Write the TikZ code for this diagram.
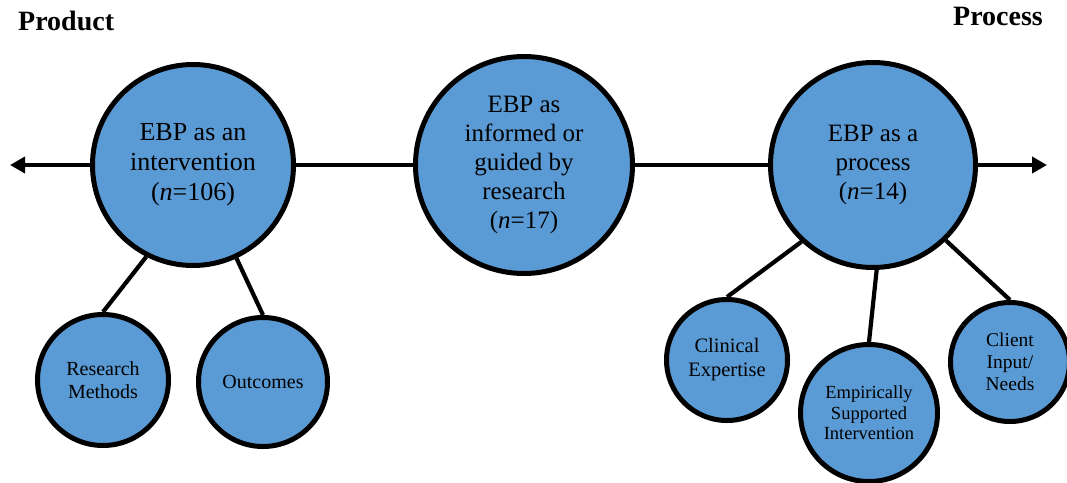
\documentclass[tikz,border=0pt]{standalone}
\usepackage{fontspec}
\setmainfont{Liberation Serif}
\usepackage{tikz}
\usetikzlibrary{arrows.meta}
\definecolor{BubbleBlue}{HTML}{5B9BD5}
\definecolor{Ink}{HTML}{000000}
\tikzset{
  bubble/.style={
    circle,
    draw=Ink,
    fill=BubbleBlue,
    line width=5pt,
    align=center,
    inner sep=0pt,
    text=Ink
  },
  mainbubble/.style={bubble, font=\fontsize{25}{29}\selectfont},
  subbubble/.style={bubble, font=\fontsize{20}{23}\selectfont},
  heading/.style={font=\fontsize{28}{32}\selectfont\bfseries, inner sep=0pt},
  axisline/.style={draw=Ink, line width=4.2pt},
  axisarrow/.style={axisline, -{Triangle[length=15pt,width=16pt]}},
  linkline/.style={draw=Ink, line width=4.2pt}
}
\begin{document}
\begin{tikzpicture}[x=1pt,y=-1pt]
  \useasboundingbox (0,0) rectangle (1067,482);
  % end labels
  \node[heading, anchor=base west] (product) at (18,30) {Product};
  \node[heading, anchor=base east] (process) at (1043,25) {Process};

  % three views of EBP along the axis
  \node[mainbubble, minimum size=201pt, font=\fontsize{26}{30}\selectfont] (interv) at (193,165)
    {EBP as an\\intervention\\(\textit{n}=106)};
  \node[mainbubble, minimum size=217pt] (informed) at (524,165)
    {EBP as\\informed or\\guided by\\research\\(\textit{n}=17)};
  \node[mainbubble, minimum size=205pt] (procbub) at (873,165)
    {EBP as a\\process\\(\textit{n}=14)};

  % sub-topics
  \node[subbubble, minimum size=131pt] (methods) at (103,380) {Research\\Methods};
  \node[subbubble, minimum size=129pt] (outcomes) at (263,382) {Outcomes};
  \node[subbubble, minimum size=121pt, font=\fontsize{20.5}{24}\selectfont] (clinical) at (727,360) {Clinical\\Expertise};
  \node[subbubble, minimum size=137pt, font=\fontsize{18.5}{20.5}\selectfont] (esi) at (869,413)
    {Empirically\\Supported\\Intervention};
  \node[subbubble, minimum size=119pt, font=\fontsize{19.5}{22}\selectfont] (client) at (1010,362) {Client\\Input/\\Needs};

  % axis
  \coordinate (leftend) at (10,165);
  \coordinate (rightend) at (1047,165);
  \draw[axisarrow] (interv.west) -- (leftend);
  \draw[axisline] (interv.east) -- (informed.west);
  \draw[axisline] (informed.east) -- (procbub.west);
  \draw[axisarrow] (procbub.east) -- (rightend);

  % links to sub-topics
  \draw[linkline] (interv.243) -- (methods.north);
  \draw[linkline] (interv.295) -- (outcomes.north);
  \draw[linkline] (procbub.227) -- (clinical.north);
  \draw[linkline] (procbub.272) -- (esi.north);
  \draw[linkline] (procbub.314) -- (client.north);
\end{tikzpicture}
\end{document}
